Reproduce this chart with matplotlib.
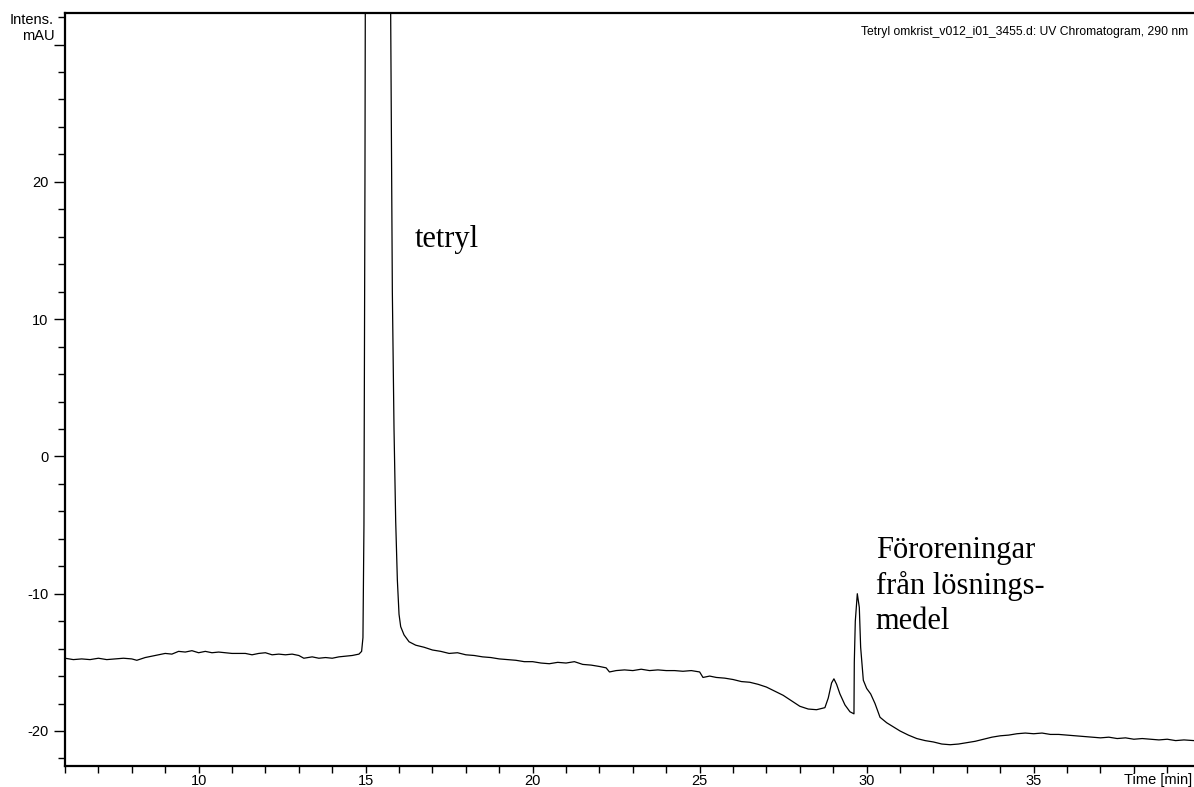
import matplotlib
matplotlib.use("Agg")
import matplotlib.pyplot as plt
import matplotlib.transforms as mtransforms
from matplotlib.ticker import MultipleLocator, FixedLocator, FixedFormatter

# chromatogram trace (time in min, intensity in mAU)
time_min = [6.0, 6.25, 6.5, 6.75, 7.0, 7.25, 7.5, 7.75, 8.0, 8.15, 8.4, 8.6, 8.8, 9.0,
            9.2, 9.4, 9.6, 9.8, 10.0, 10.2, 10.4, 10.6, 10.8, 11.0, 11.2, 11.4, 11.6,
            11.8, 12.0, 12.2, 12.4, 12.6, 12.8, 13.0, 13.15, 13.4, 13.6, 13.8, 14.0,
            14.2, 14.4, 14.6, 14.8, 14.88, 14.92, 14.95, 14.98, 15.0, 15.4, 15.72,
            15.76, 15.8, 15.85, 15.9, 15.95, 16.0, 16.05, 16.15, 16.3, 16.5, 16.75,
            17.0, 17.25, 17.5, 17.75, 18.0, 18.25, 18.5, 18.75, 19.0, 19.25, 19.5,
            19.75, 20.0, 20.25, 20.5, 20.75, 21.0, 21.25, 21.5, 21.75, 22.0, 22.2,
            22.3, 22.5, 22.75, 23.0, 23.25, 23.5, 23.75, 24.0, 24.25, 24.5, 24.75,
            25.0, 25.1, 25.3, 25.5, 25.75, 26.0, 26.25, 26.5, 26.75, 27.0, 27.25,
            27.5, 27.75, 28.0, 28.25, 28.5, 28.75, 28.85, 28.95, 29.02, 29.1, 29.2,
            29.35, 29.5, 29.62, 29.63, 29.66, 29.72, 29.78, 29.82, 29.9, 30.0, 30.12,
            30.25, 30.4, 30.6, 30.8, 31.0, 31.25, 31.5, 31.75, 32.0, 32.25, 32.5,
            32.75, 33.0, 33.25, 33.5, 33.75, 34.0, 34.25, 34.5, 34.75, 35.0, 35.25,
            35.5, 35.75, 36.0, 36.25, 36.5, 36.75, 37.0, 37.25, 37.5, 37.75, 38.0,
            38.25, 38.5, 38.75, 39.0, 39.25, 39.5, 39.8]
intensity = [-14.7, -14.8, -14.75, -14.8, -14.7, -14.8, -14.75, -14.7, -14.75, -14.85,
             -14.65, -14.55, -14.45, -14.35, -14.4, -14.2, -14.25, -14.15, -14.3, -14.2,
             -14.3, -14.25, -14.3, -14.35, -14.35, -14.35, -14.45, -14.35, -14.3, -14.45,
             -14.4, -14.45, -14.4, -14.5, -14.7, -14.6, -14.7, -14.65, -14.7, -14.6,
             -14.55, -14.5, -14.4, -14.2, -13.2, -5.0, 20.0, 45.0, 120.0, 45.0,
             28.0, 12.0, 2.0, -4.7, -9.0, -11.5, -12.4, -13.0, -13.5, -13.75, -13.9,
             -14.1, -14.2, -14.35, -14.3, -14.45, -14.5, -14.6, -14.65, -14.75, -14.8, -14.85,
             -14.95, -14.95, -15.05, -15.1, -15.0, -15.05, -14.95, -15.15, -15.2, -15.3, -15.4,
             -15.7, -15.6, -15.55, -15.6, -15.5, -15.6, -15.55, -15.6, -15.6, -15.65, -15.6,
             -15.7, -16.1, -16.0, -16.1, -16.15, -16.25, -16.4, -16.45, -16.6, -16.8, -17.1,
             -17.4, -17.8, -18.2, -18.4, -18.45, -18.3, -17.6, -16.5, -16.2, -16.6, -17.3,
             -18.1, -18.6, -18.75, -15.0, -12.0, -10.0, -11.0, -13.9, -16.3, -16.9, -17.3,
             -18.0, -19.0, -19.4, -19.7, -20.0, -20.3, -20.55, -20.7, -20.8, -20.95, -21.0,
             -20.95, -20.85, -20.75, -20.6, -20.45, -20.35, -20.3, -20.2, -20.15, -20.2, -20.15,
             -20.25, -20.25, -20.3, -20.35, -20.4, -20.45, -20.5, -20.45, -20.55, -20.5, -20.6,
             -20.55, -20.6, -20.65, -20.6, -20.7, -20.65, -20.7]

y_major = [-20, -10, 0, 10, 20, 30]
y_major_labels = ["-20", "-10", "0", "10", "20", ""]

plt.rcParams['font.family'] = ['Liberation Sans', 'DejaVu Sans']

fig = plt.figure(figsize=(11.94, 7.87), dpi=100)
ax = fig.add_axes([65/1194, 21/787, 1129/1194, 753/787])

ax.plot(time_min, intensity, color="black", lw=0.9)

ax.set_xlim(6.0, 39.8)
ax.set_ylim(-22.55, 32.3)

for s in ["left", "bottom", "top"]:
    ax.spines[s].set_linewidth(1.6)
ax.spines["right"].set_visible(False)

ax.xaxis.set_major_locator(MultipleLocator(5))
ax.xaxis.set_minor_locator(MultipleLocator(1))
ax.yaxis.set_major_locator(FixedLocator(y_major))
ax.yaxis.set_major_formatter(FixedFormatter(y_major_labels))
ax.yaxis.set_minor_locator(MultipleLocator(2))
ax.tick_params(axis="x", which="both", direction="out", length=5, width=1, labelsize=10.5, pad=1)
ax.tick_params(axis="y", which="major", direction="out", length=8, width=1, labelsize=10.5, pad=4)
ax.tick_params(axis="y", which="minor", direction="out", length=5, width=1)
ax.tick_params(top=False, right=False)

trans = mtransforms.blended_transform_factory(ax.transAxes, ax.transData)
ax.text(-0.0105, 31.8, "Intens.", transform=trans, ha="right", va="center", fontsize=10.5)
ax.text(-0.0095, 30.1, "mAU", transform=trans, ha="right", va="bottom", fontsize=10.5)
ax.text(0.998, -0.009, "Time [min]", transform=ax.transAxes, ha="right", va="top", fontsize=10.5)

ax.text(0.995, 0.983, "Tetryl omkrist_v012_i01_3455.d: UV Chromatogram, 290 nm",
        transform=ax.transAxes, ha="right", va="top", fontsize=8.7)

ax.text(16.47, 15.26, "tetryl", family="Liberation Serif", fontsize=22, va="baseline")
# baseline alignment of a multi-line text goes by its last line here
ax.text(30.27, -12.55, "Föroreningar\nfrån lösnings-\nmedel", family="Liberation Serif",
        fontsize=22, va="baseline", linespacing=1.25)

fig.savefig("out.png", dpi=100)
